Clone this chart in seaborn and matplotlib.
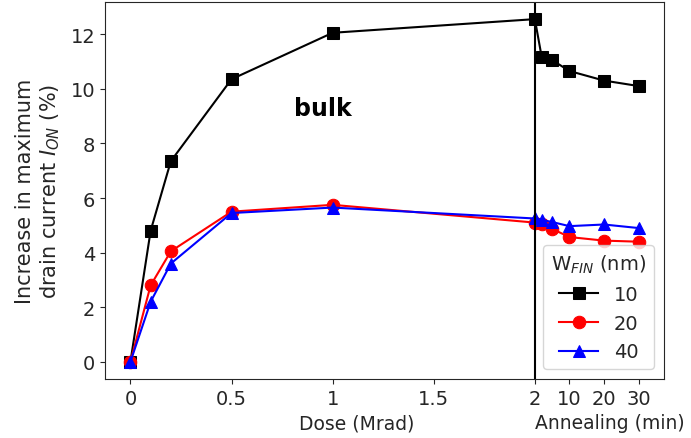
import numpy as np
import pandas as pd
import matplotlib
matplotlib.use("Agg")
import matplotlib.pyplot as plt
import seaborn as sns

# Irradiation dose steps (Mrad) followed by annealing times (min)
dose = [0, 0.1, 0.2, 0.5, 1, 2]
anneal_min = [2, 5, 10, 20, 30]

# Increase in maximum drain current I_ON (%) for each fin width
w10 = [0, 4.8, 7.35, 10.35, 12.05, 12.55, 11.15, 11.05, 10.65, 10.3, 10.1]
w20 = [0, 2.8, 4.05, 5.5, 5.75, 5.1, 5.03, 4.87, 4.57, 4.44, 4.4]
w40 = [0, 2.2, 3.6, 5.45, 5.65, 5.25, 5.2, 5.12, 4.97, 5.03, 4.9]

fin_widths = ["10", "20", "40"]
colors = ["black", "red", "blue"]
markers = ["s", "o", "^"]

# annealing minutes are appended after the 2 Mrad point on a compressed scale
MIN_SCALE = 0.0171
x_pos = dose + [2 + t * MIN_SCALE for t in anneal_min]

df = pd.DataFrame({
    "x": x_pos * 3,
    "y": w10 + w20 + w40,
    "w": np.repeat(fin_widths, len(x_pos)),
})

plt.rcParams.update({
    "text.color": ".15",
    "axes.labelcolor": ".15",
    "xtick.color": ".15",
    "ytick.color": ".15",
    "axes.edgecolor": ".15",
})

fig = plt.figure(figsize=(6.91, 4.39), dpi=100)
ax = fig.add_axes([105 / 691, 1 - 380 / 439, (664 - 105) / 691, (380 - 3) / 439])

for w, c, m in zip(fin_widths, colors, markers):
    sub = df[df["w"] == w]
    sns.lineplot(data=sub, x="x", y="y", ax=ax, color=c, marker=m,
                 markersize=9, markeredgecolor=c, linewidth=1.5,
                 sort=False, label=w)

ax.axvline(2, color="black", linewidth=1.5)

tick_vals = [0, 0.5, 1, 1.5, 2] + [2 + t * MIN_SCALE for t in [10, 20, 30]]
tick_labels = ["0", "0.5", "1", "1.5", "2", "10", "20", "30"]
ax.set_xticks(tick_vals)
ax.set_xticklabels(tick_labels)
ax.tick_params(labelsize=14)
ax.set_yticks([0, 2, 4, 6, 8, 10, 12])

ax.set_xlabel("")
ax.set_ylabel("Increase in maximum\ndrain current $I_{ON}$ (%)", fontsize=15,
              labelpad=6)

ax.annotate("Dose (Mrad)", xy=(1.12, 0), xycoords=("data", "axes fraction"),
            xytext=(0, -44), textcoords="offset pixels", ha="center", va="center",
            fontsize=13.5)
ax.annotate("Annealing (min)", xy=(2.37, 0), xycoords=("data", "axes fraction"),
            xytext=(0, -44), textcoords="offset pixels", ha="center", va="center",
            fontsize=13.5)

ax.text(0.95, 9.3, "bulk", fontsize=17, fontweight="bold", color="black",
        ha="center", va="center")

leg = ax.legend(title="W$_{FIN}$ (nm)", loc="lower right", fontsize=14,
                title_fontsize=14)

fig.savefig("out.png", dpi=100)
